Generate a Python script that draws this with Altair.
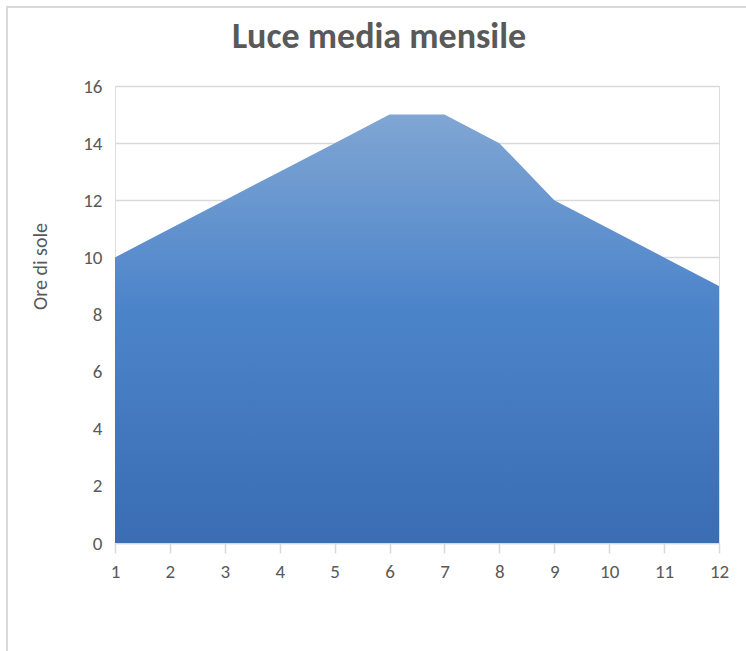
import altair as alt
import pandas as pd

# Monthly average daylight hours
mesi = [1, 2, 3, 4, 5, 6, 7, 8, 9, 10, 11, 12]
ore_di_sole = [10, 11, 12, 13, 14, 15, 15, 14, 12, 11, 10, 9]
titolo = ["Luce media mensile"]

df = pd.DataFrame({"Mese": mesi, "Ore": ore_di_sole})
df_titolo = pd.DataFrame({"titolo": titolo})

FONT = "Carlito, Liberation Sans Narrow, Open Sans, sans-serif"
TEXT = "#595959"
GRID = "#d9d9d9"

gradient = alt.Gradient(
    gradient="linear",
    x1=0, y1=0, x2=0, y2=1,
    stops=[
        alt.GradientStop(offset=0.0, color="#80a6d3"),
        alt.GradientStop(offset=0.45, color="#4c84ca"),
        alt.GradientStop(offset=1.0, color="#3a6db3"),
    ],
)

x_enc = alt.X(
    "Mese:Q",
    scale=alt.Scale(domain=[1, 12], nice=False, zero=False),
    axis=alt.Axis(
        title=None,
        values=mesi,
        format="d",
        grid=False,
        domain=True,
        domainColor=GRID,
        domainWidth=1.5,
        ticks=True,
        tickColor=GRID,
        tickWidth=1.5,
        tickSize=10,
        labelFlush=False,
        labelPadding=9,
        labelFont=FONT,
        labelFontSize=19,
        labelColor=TEXT,
    ),
)
y_enc = alt.Y(
    "Ore:Q",
    scale=alt.Scale(domain=[0, 16], nice=False),
    axis=alt.Axis(
        title="Ore di sole",
        titleFont=FONT,
        titleFontSize=20,
        titleFontWeight="normal",
        titleColor=TEXT,
        titleAngle=270,
        titleAlign="center",
        titleBaseline="middle",
        titleX=-75,
        titleY=180,
        values=[0, 2, 4, 6, 8, 10, 12, 14, 16],
        grid=True,
        gridColor=GRID,
        gridWidth=1.5,
        domain=False,
        ticks=False,
        labelFlush=False,
        labelPadding=13,
        labelFont=FONT,
        labelFontSize=19,
        labelColor=TEXT,
    ),
)

area = alt.Chart(df).mark_area(color=gradient, line=False).encode(x=x_enc, y=y_enc)

# Outer chart frame
frame = alt.Chart(df).mark_rect(
    fill=None, stroke=GRID, strokeWidth=1.5, clip=False
).encode(
    x=alt.value(-108), x2=alt.value(645),
    y=alt.value(-79), y2=alt.value(580),
)

# Chart heading, centred on the outer frame
heading = alt.Chart(df_titolo).mark_text(
    font=FONT,
    fontSize=36,
    fontWeight="bold",
    color=TEXT,
    align="center",
    baseline="alphabetic",
    clip=False,
).encode(
    text="titolo:N",
    x=alt.value(264),
    y=alt.value(-38),
)

chart = alt.layer(frame, area, heading).properties(
    width=604,
    height=457,
    autosize=alt.AutoSizeParams(type="none"),
    padding={"left": 115, "top": 86, "right": 27, "bottom": 108},
).configure_view(stroke=None).configure(background="white")

chart.save("out.html", embed_options={"renderer": "svg", "actions": False})
